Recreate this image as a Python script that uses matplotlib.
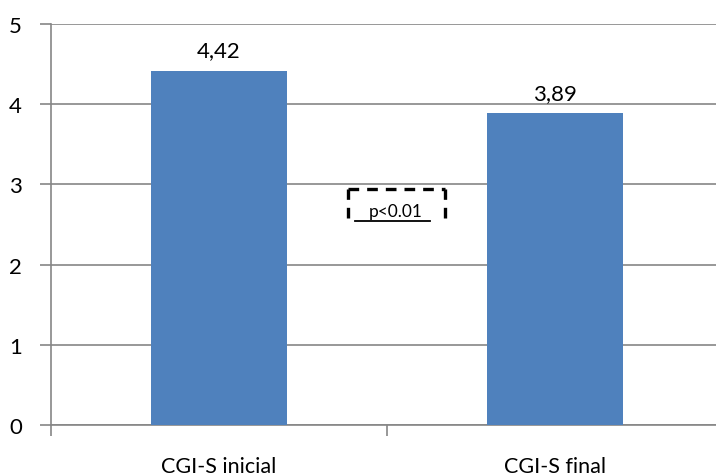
import matplotlib.pyplot as plt
from matplotlib.lines import Line2D

# data
categories = ['CGI-S inicial', 'CGI-S final']
values = [4.42, 3.89]
value_labels = ['4,42', '3,89']
y_ticks = [0, 1, 2, 3, 4, 5]

plt.rcParams['font.family'] = ['Lato', 'DejaVu Sans']

W, H = 716, 477
fig = plt.figure(figsize=(W / 100, H / 100), dpi=100)
ax = fig.add_axes([51 / W, 1 - 426 / H, 672 / W, 401 / H])

x = range(len(categories))
ax.bar(x, values, width=0.405, color='#4F81BD', zorder=3)
for xi, v, lab in zip(x, values, value_labels):
    ax.text(xi, v + 0.13, lab, ha='center', va='bottom', fontsize=16)

ax.set_xlim(-0.5, 1.5)
ax.set_ylim(0, 5)
ax.set_yticks(y_ticks)
ax.set_yticklabels([str(t) for t in y_ticks], fontsize=16)
ax.yaxis.grid(True, color='#868686', linewidth=1.2, zorder=0)

# category boundary ticks, labels centred under bars
ax.set_xticks([-0.5, 0.5, 1.5])
ax.set_xticklabels([])
ax.set_xticks(list(x), minor=True)
ax.set_xticklabels(categories, minor=True, fontsize=15.5)
ax.tick_params(axis='x', which='minor', length=0, pad=22)
ax.tick_params(axis='x', which='major', length=8, color='#868686', width=1.2)
ax.tick_params(axis='y', length=8, color='#868686', width=1.2, pad=13)

for s in ['top', 'right']:
    ax.spines[s].set_visible(False)
for s in ['left', 'bottom']:
    ax.spines[s].set_color('#868686')
    ax.spines[s].set_linewidth(1.2)

# dashed box with p value (no bottom edge), placed in figure pixels
def px(xp, yp):
    return xp / W, 1 - yp / H

kw = dict(transform=fig.transFigure, color='black', linewidth=2.4, linestyle=(0, (3.2, 2.4)))
(x0, y0), (x1, y1) = px(348, 190), px(445, 219)
fig.add_artist(Line2D([x0, x1], [y0, y0], **kw))
fig.add_artist(Line2D([x0, x0], [y1, y0], **kw))
fig.add_artist(Line2D([x1, x1], [y1, y0], **kw))
tx, ty = px(396, 212)
fig.text(tx, ty, 'p<0.01', ha='center', va='center', fontsize=12.5)
(ux0, uy), (ux1, _) = px(355, 222), px(430, 222)
fig.add_artist(Line2D([ux0, ux1], [uy, uy], transform=fig.transFigure,
                      color='black', linewidth=1.3))

fig.savefig('out.png', dpi=100)
